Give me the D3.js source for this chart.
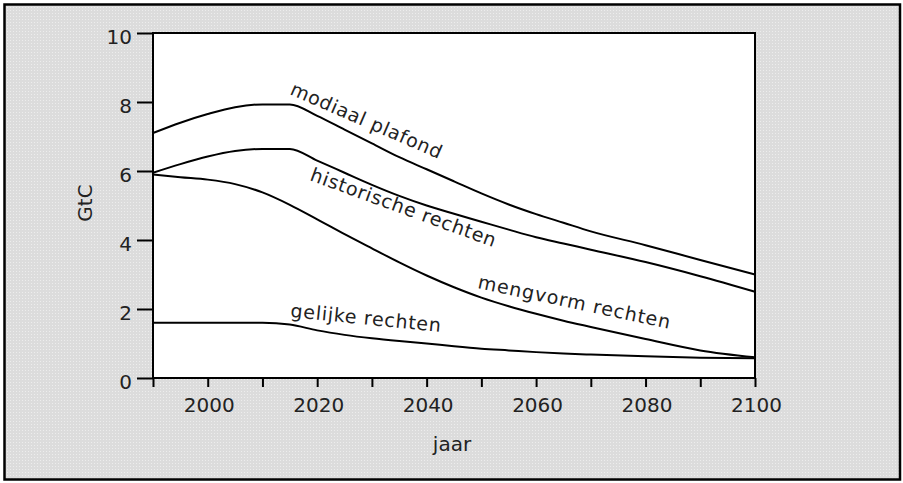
<!DOCTYPE html>
<html><head><meta charset="utf-8">
<script src="https://cdn.jsdelivr.net/npm/d3@7"></script>
<style>html,body{margin:0;padding:0;background:#fff;}svg{display:block;}</style>
</head><body>
<svg id="chart" width="903" height="483"></svg>
<script>
const years = [1990,1995,2000,2005,2010,2015,2020,2025,2030,2035,2040,2045,2050,2055,2060,2065,2070,2080,2090,2100];
const modiaalPlafond = [7.1,7.4,7.65,7.85,7.93,7.93,7.6,7.2,6.8,6.4,6.05,5.7,5.35,5.03,4.75,4.5,4.25,3.85,3.42,3.0];
const historischeRechten = [5.95,6.2,6.42,6.58,6.64,6.64,6.3,5.95,5.6,5.28,5.0,4.76,4.53,4.3,4.08,3.9,3.72,3.36,2.95,2.5];
const mengvormRechten = [5.9,5.82,5.75,5.62,5.38,5.02,4.6,4.17,3.76,3.35,2.97,2.63,2.33,2.08,1.86,1.66,1.48,1.13,0.8,0.6];
const gelijkeRechten = [1.6,1.6,1.6,1.6,1.6,1.55,1.38,1.25,1.15,1.07,1.0,0.92,0.85,0.8,0.75,0.71,0.68,0.63,0.59,0.57];
const seriesNames = ["modiaal plafond","historische rechten","mengvorm rechten","gelijke rechten"];
const xTicks = [1990,2000,2010,2020,2030,2040,2050,2060,2070,2080,2090,2100];
const xTickLabels = ["","2000","","2020","","2040","","2060","","2080","","2100"];
const yTicks = [0,2,4,6,8,10];
const xTitle = "jaar", yTitle = "GtC";

const svg = d3.select("#chart");
const font = "'DejaVu Sans', Verdana, sans-serif";
const L = 153, R = 755, T = 33, B = 378;

// background with dot pattern
const defs = svg.append("defs");
const pat = defs.append("pattern").attr("id","dots").attr("width",3).attr("height",3).attr("patternUnits","userSpaceOnUse");
pat.append("rect").attr("width",3).attr("height",3).attr("fill","#dcdcdc");
pat.append("rect").attr("x",1).attr("y",1).attr("width",1).attr("height",1).attr("fill","#ededed");
svg.append("rect").attr("x",4.5).attr("y",4.5).attr("width",895.5).attr("height",475)
  .attr("fill","url(#dots)").attr("stroke","#000").attr("stroke-width",2.5);

const x = d3.scaleLinear().domain([1990,2100]).range([L,R]);
const y = d3.scaleLinear().domain([0,10]).range([B,T]);

svg.append("rect").attr("x",L).attr("y",T).attr("width",R-L).attr("height",B-T)
  .attr("fill","#fff").attr("stroke","#000").attr("stroke-width",2);

// axes
const xAxis = svg.append("g").attr("transform",`translate(0,${B})`)
  .call(d3.axisBottom(x).tickValues(xTicks).tickSize(9).tickFormat((d,i)=>xTickLabels[i]));
xAxis.select(".domain").remove();
xAxis.selectAll("line").attr("stroke","#000").attr("stroke-width",2);
xAxis.selectAll("text").attr("y",34).attr("dy",null).attr("x",1)
  .style("font-family",font).style("font-size","20px").attr("fill","#222");

const yAxis = svg.append("g").attr("transform",`translate(${L},0)`)
  .call(d3.axisLeft(y).tickValues(yTicks).tickSize(16).tickFormat(d3.format("d")));
yAxis.select(".domain").remove();
yAxis.selectAll("line").attr("stroke","#000").attr("stroke-width",2);
yAxis.selectAll("text").attr("x",-21).attr("dy",null).attr("y",10.5)
  .style("font-family",font).style("font-size","20px").attr("fill","#222");

svg.append("text").attr("x",452).attr("y",451).attr("text-anchor","middle")
  .style("font-family",font).style("font-size","20px").attr("fill","#222").text(xTitle);
svg.append("text").attr("transform","translate(92,203) rotate(-90)").attr("text-anchor","middle")
  .style("font-family",font).style("font-size","20px").attr("fill","#222").text(yTitle);

// lines
const line = d3.line().x(d=>x(d[0])).y(d=>y(d[1])).curve(d3.curveMonotoneX);
[modiaalPlafond,historischeRechten,mengvormRechten,gelijkeRechten].forEach(vals=>{
  svg.append("path").datum(years.map((yr,i)=>[yr,vals[i]]))
    .attr("d",line).attr("fill","none").attr("stroke","#000").attr("stroke-width",2);
});

// rotated labels
const labelPos = [
  {x:289,y:94,a:23.5,len:163},
  {x:309,y:180,a:20,len:196},
  {x:477,y:288,a:12,len:196},
  {x:290,y:317,a:5.7,len:151}
];
seriesNames.forEach((n,i)=>{
  const p = labelPos[i];
  svg.append("text").attr("transform",`translate(${p.x},${p.y}) rotate(${p.a})`)
    .attr("textLength",p.len).attr("lengthAdjust","spacing")
    .style("font-family",font).style("font-size","19px").attr("fill","#222").text(n);
});
</script>
</body></html>
